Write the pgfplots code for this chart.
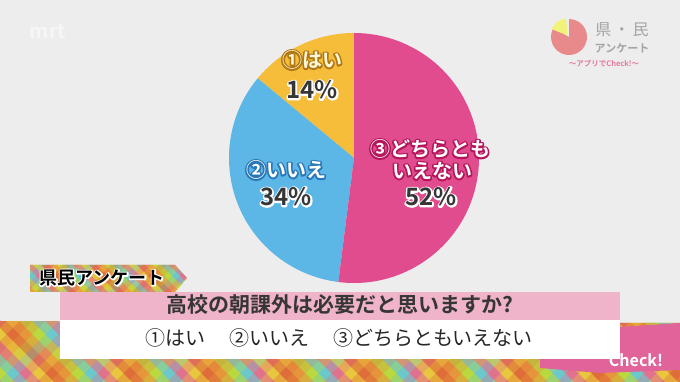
\documentclass[border=0pt]{standalone}
\usepackage{pgfplots}
\pgfplotsset{compat=1.18}
\usepackage{pgfplotstable}
\usepackage{fontspec}
\setmainfont{Noto Sans CJK JP}[BoldFont={Noto Sans CJK JP Bold}]

\definecolor{bg}{HTML}{EDEDED}
\definecolor{cpink}{HTML}{E04C8D}
\definecolor{cblue}{HTML}{5CB7E7}
\definecolor{cyel}{HTML}{F5BD3A}
\definecolor{qpink}{HTML}{EFB4C9}
\definecolor{dark}{HTML}{363636}
\definecolor{yfill}{HTML}{FFF7DA}
\definecolor{oyel}{HTML}{B07814}
\definecolor{oblue}{HTML}{2A78B8}
\definecolor{opink}{HTML}{B4165C}
\definecolor{brpink}{HTML}{E0649A}
\definecolor{p0}{HTML}{F08A3A}
\definecolor{p1}{HTML}{B9D93F}
\definecolor{p2}{HTML}{5EC6E6}
\definecolor{p3}{HTML}{E8609E}
\definecolor{p4}{HTML}{F2C33E}
\definecolor{p5}{HTML}{E65A3A}
\definecolor{logopink}{HTML}{E8898C}
\definecolor{logoyel}{HTML}{F2F27A}
\definecolor{logogray}{HTML}{A4A4A4}
\definecolor{logotxt}{HTML}{E47A98}

% outlined text: #1 outline width, #2 outline colour, #3 fill colour, #4 text
\newcommand\otext[4]{\leavevmode\rlap{\textcolor{#2}{\special{pdf:literal direct 1 Tr #1 w 1 j 1 J}#4\special{pdf:literal direct 0 Tr 0.4 w 0 j 0 J}}}\textcolor{#3}{#4}}

\pgfplotstableread{
label value
hai 14
iie 34
dochira 52
}\piedata
\pgfplotstablegetelem{0}{value}\of\piedata \let\va\pgfplotsretval
\pgfplotstablegetelem{1}{value}\of\piedata \let\vb\pgfplotsretval
\pgfplotstablegetelem{2}{value}\of\piedata \let\vc\pgfplotsretval
\pgfmathsetmacro\aA{90}
\pgfmathsetmacro\aB{\aA+3.6*\va}
\pgfmathsetmacro\aC{\aB+3.6*\vb}
\pgfmathsetmacro\aD{\aC+3.6*\vc}

\newcommand\plaid[1]{%
  \fill[p1] (-50,-50) rectangle (730,430);
  \foreach \i in {-25,...,90} {
    \pgfmathtruncatemacro\c{mod(\i+600,6)}
    \fill[p\c, opacity=0.65] (\i*#1,-50) -- ++(#1,0) -- ++(480,480) -- ++(-#1,0) -- cycle;
    \pgfmathtruncatemacro\d{mod(\i+603,6)}
    \fill[p\d, opacity=0.55] (\i*#1,-50) -- ++(#1,0) -- ++(-480,480) -- ++(-#1,0) -- cycle;
  }%
}

\begin{document}
\begin{tikzpicture}[x=1pt,y=1pt]
\useasboundingbox (0,0) rectangle (680,382);
\clip (0,0) rectangle (680,382);
\fill[bg] (0,0) rectangle (680,382);

% bottom plaid band
\begin{scope}
  \clip (0,61) -- (680,59) -- (680,0) -- (0,0) -- cycle;
  \plaid{13}
\end{scope}
% pink area bottom right
\fill[brpink] (540,23) -- (620,23) -- (620,55) -- (680,59) -- (680,12) -- (600,9) -- (540,14) -- cycle;
\node[text=white, font=\bfseries\fontsize{16}{16}\selectfont] at (636,22) {Check!};

% tag
\begin{scope}
  \clip (30,117) -- (175,117) -- (187,104) -- (175,90) -- (30,90) -- cycle;
  \plaid{8}
\end{scope}
\node[font=\bfseries\fontsize{18}{18}\selectfont] at (102,104) {\otext{2.6}{white}{black}{県民アンケート}};

% question boxes
\fill[qpink] (60,62) rectangle (620,90);
\fill[white] (60,23) rectangle (620,62);
\node[text=dark, font=\bfseries\fontsize{21}{21}\selectfont] at (340,77) {高校の朝課外は必要だと思いますか?};
\node[text=black!85, font=\fontsize{20}{20}\selectfont] at (339,44) {①はい\hspace{1.2em}②いいえ\hspace{1.2em}③どちらともいえない};

% top-left faint logo
\node[text=white, opacity=0.55, font=\bfseries\fontsize{20}{20}\selectfont] at (48,350) {mrt};

% top-right logo
\fill[logopink] (569,345) -- ++(150:18) arc[start angle=150, end angle=450, radius=18] -- cycle;
\fill[logoyel] (567.5,346.5) -- ++(95:17) arc[start angle=95, end angle=158, radius=17] -- cycle;
\node[text=logogray, font=\fontsize{16}{16}\selectfont] at (622,352) {県\,・\,民};
\node[text=logogray, font=\bfseries\fontsize{11}{11}\selectfont] at (622,334) {アンケート};
\node[text=logotxt, font=\bfseries\fontsize{7.5}{7.5}\selectfont] at (604,318) {〜アプリでCheck!〜};

\begin{axis}[at={(0,0)}, anchor=south west, scale only axis,
  width=680pt, height=382pt, xmin=0, xmax=680, ymin=0, ymax=382,
  hide axis, clip=false]
  \fill[cyel] (axis cs:354,224) -- ++(\aA:125pt) arc[start angle=\aA, end angle=\aB, radius=125pt] -- cycle;
  \fill[cblue] (axis cs:354,224) -- ++(\aB:125pt) arc[start angle=\aB, end angle=\aC, radius=125pt] -- cycle;
  \fill[cpink] (axis cs:354,224) -- ++(\aC:125pt) arc[start angle=\aC, end angle=\aD, radius=125pt] -- cycle;

  \node[font=\bfseries\fontsize{20}{20}\selectfont] at (axis cs:312,322) {\otext{3.2}{oyel}{yfill}{①はい}};
  \node[font=\bfseries\fontsize{24}{24}\selectfont] at (axis cs:312,292) {\otext{3.2}{white}{dark}{\va\%}};
  \node[font=\bfseries\fontsize{20}{20}\selectfont] at (axis cs:286,212) {\otext{3.2}{oblue}{white}{②いいえ}};
  \node[font=\bfseries\fontsize{24}{24}\selectfont] at (axis cs:286,185) {\otext{3.2}{white}{dark}{\vb\%}};
  \node[font=\bfseries\fontsize{20}{20}\selectfont] at (axis cs:430,233) {\otext{3.2}{opink}{white}{③どちらとも}};
  \node[font=\bfseries\fontsize{20}{20}\selectfont] at (axis cs:432,211) {\otext{3.2}{opink}{white}{いえない}};
  \node[font=\bfseries\fontsize{24}{24}\selectfont] at (axis cs:431,185) {\otext{3.2}{white}{dark}{\vc\%}};
\end{axis}
\end{tikzpicture}
\end{document}
